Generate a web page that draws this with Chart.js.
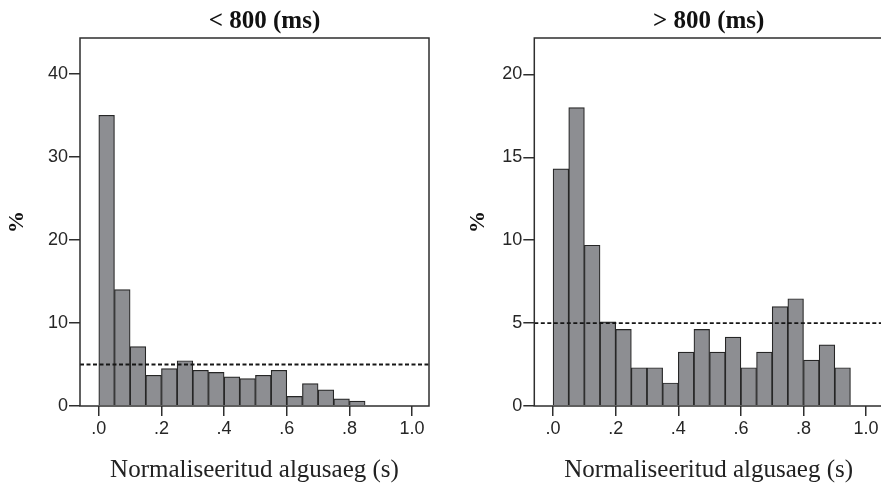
<!DOCTYPE html>
<html>
<head>
<meta charset="utf-8">
<script src="https://cdn.jsdelivr.net/npm/chart.js@4"></script>
<style>
  html, body { margin: 0; padding: 0; background: #ffffff; }
  body { width: 881px; height: 486px; overflow: hidden; position: relative; }
  canvas { position: absolute; top: 0; }
  #left { left: 0; }
  #right { left: 440px; }
</style>
</head>
<body>
<canvas id="left" width="440" height="486"></canvas>
<canvas id="right" width="445" height="486"></canvas>
<script>
// ---- data ----
const binWidth = 0.05;
const panelTitles = ['< 800 (ms)', '> 800 (ms)'];
const xAxisTitle = 'Normaliseeritud algusaeg (s)';
const yAxisTitle = '%';

const binStartsShort = [0.00, 0.05, 0.10, 0.15, 0.20, 0.25, 0.30, 0.35, 0.40, 0.45, 0.50, 0.55, 0.60, 0.65, 0.70, 0.75, 0.80];
const percentShort   = [35.0, 14.0, 7.15, 3.7, 4.5, 5.45, 4.3, 4.05, 3.5, 3.3, 3.7, 4.3, 1.15, 2.7, 1.95, 0.85, 0.6];

const binStartsLong  = [0.00, 0.05, 0.10, 0.15, 0.20, 0.25, 0.30, 0.35, 0.40, 0.45, 0.50, 0.55, 0.60, 0.65, 0.70, 0.75, 0.80, 0.85, 0.90];
const percentLong    = [14.3, 18.0, 9.7, 5.08, 4.62, 2.31, 2.31, 1.39, 3.25, 4.62, 3.25, 4.16, 2.31, 3.25, 6.0, 6.47, 2.77, 3.69, 2.31];

const referenceLevel = 5;

const xTickValues = [0, 0.2, 0.4, 0.6, 0.8, 1.0];
const xTickLabels = ['.0', '.2', '.4', '.6', '.8', '1.0'];
const yTicksShort = [0, 10, 20, 30, 40];
const yTicksLong  = [0, 5, 10, 15, 20];

const xRange = [-0.06, 1.054];
const yMaxShort = 44.3;
const yMaxLong = 22.2;

// ---- styling ----
const barFill = '#8d8e92';
const barEdge = '#262626';
const inkColor = '#262626';
const tickFont = { family: '"Liberation Sans Narrow", "Arial Narrow", "Liberation Sans", Arial, sans-serif', size: 18 };

const titlePlugin = {
  id: 'panelTitle',
  afterDraw(chart, args, opts) {
    const { ctx, chartArea } = chart;
    ctx.save();
    ctx.font = 'bold 25px "Liberation Serif", "Times New Roman", serif';
    ctx.fillStyle = '#111';
    ctx.textAlign = 'center';
    ctx.textBaseline = 'alphabetic';
    ctx.fillText(opts.text, (chartArea.left + chartArea.right) / 2 + opts.dx, opts.baseline);
    ctx.restore();
  }
};

const framePlugin = {
  id: 'frameBox',
  afterDatasetsDraw(chart) {
    const { ctx, chartArea } = chart;
    ctx.save();
    ctx.strokeStyle = '#2e2e2e';
    ctx.lineWidth = 1.5;
    ctx.strokeRect(chartArea.left, chartArea.top, chartArea.right - chartArea.left, chartArea.bottom - chartArea.top);
    ctx.restore();
  }
};

function makeChart(id, starts, values, yMax, yTicks, cfg) {
  const bars = starts.map((s, i) => ({ x: s + binWidth / 2, y: values[i] }));
  return new Chart(document.getElementById(id), {
    type: 'bar',
    data: {
      datasets: [
        {
          type: 'line',
          data: [{ x: xRange[0], y: referenceLevel }, { x: xRange[1], y: referenceLevel }],
          borderColor: '#161616',
          borderWidth: 1.9,
          borderDash: [4, 2.5],
          pointRadius: 0,
          fill: false,
          tension: 0,
          order: 0
        },
        {
          type: 'bar',
          data: bars,
          backgroundColor: barFill,
          borderColor: barEdge,
          borderWidth: 1.2,
          barPercentage: 1,
          categoryPercentage: 1,
          order: 1
        }
      ]
    },
    options: {
      responsive: false,
      animation: false,
      layout: { padding: { left: cfg.padL, right: cfg.padR, top: 38, bottom: 0 } },
      plugins: {
        legend: { display: false },
        tooltip: { enabled: false },
        panelTitle: { text: cfg.title, dx: cfg.titleDx, baseline: 28 }
      },
      scales: {
        x: {
          type: 'linear',
          min: xRange[0],
          max: xRange[1],
          offset: false,
          afterBuildTicks: (scale) => { scale.ticks = xTickValues.map(v => ({ value: v })); },
          afterFit: (scale) => { scale.height = 80; },
          ticks: {
            autoSkip: false,
            maxRotation: 0,
            padding: 2,
            color: inkColor,
            font: tickFont,
            callback: (v, i) => xTickLabels[i]
          },
          grid: {
            display: true,
            drawOnChartArea: false,
            drawTicks: true,
            tickLength: 10,
            color: '#2e2e2e',
            lineWidth: 1.5,
            offset: false
          },
          border: { display: false },
          title: {
            display: true,
            text: xAxisTitle,
            color: '#222',
            font: { family: '"Liberation Serif", "Times New Roman", serif', size: 25 },
            padding: { top: 0, bottom: 1 }
          }
        },
        y: {
          type: 'linear',
          min: 0,
          max: yMax,
          afterBuildTicks: (scale) => { scale.ticks = yTicks.map(v => ({ value: v })); },
          afterFit: (scale) => { scale.width = cfg.yWidth; },
          ticks: {
            padding: 1,
            color: inkColor,
            font: tickFont,
            callback: (v) => String(v)
          },
          grid: {
            display: true,
            drawOnChartArea: false,
            drawTicks: true,
            tickLength: 11,
            color: '#2e2e2e',
            lineWidth: 1.5
          },
          border: { display: false },
          title: {
            display: true,
            text: yAxisTitle,
            color: '#111',
            font: { family: '"Liberation Serif", "Times New Roman", serif', size: 22, weight: 'bold' },
            padding: { top: 4, bottom: 0 }
          }
        }
      }
    },
    plugins: [titlePlugin, framePlugin]
  });
}

makeChart('left', binStartsShort, percentShort, yMaxShort, yTicksShort,
  { padL: 0, padR: 11, yWidth: 80, title: panelTitles[0], titleDx: 10 });
makeChart('right', binStartsLong, percentLong, yMaxLong, yTicksLong,
  { padL: 21, padR: 2, yWidth: 73.3, title: panelTitles[1], titleDx: 0 });
</script>
</body>
</html>
